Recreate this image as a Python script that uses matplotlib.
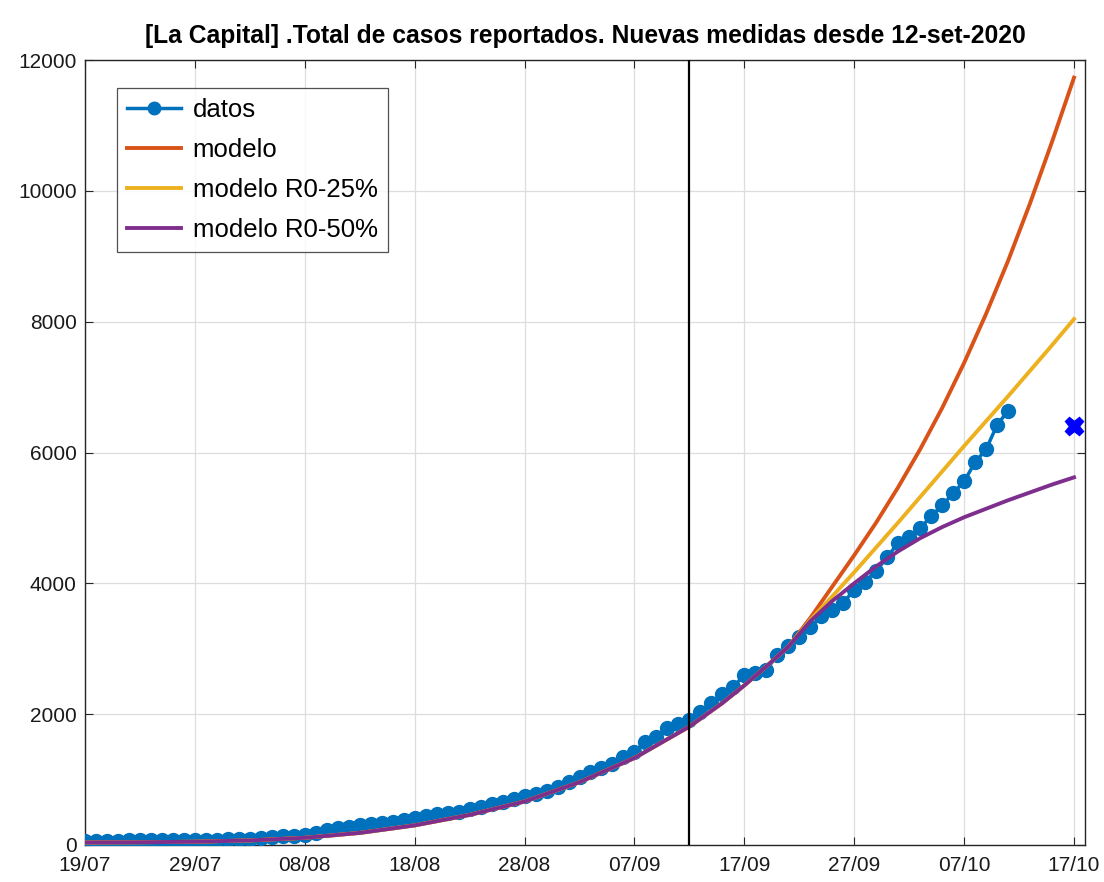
import matplotlib
matplotlib.use("Agg")
import matplotlib.pyplot as plt
import numpy as np

# ---- data (day index 0 = 19/07/2020) ----
tick_days = [0, 10, 20, 30, 40, 50, 60, 70, 80, 90]
tick_labels = ["19/07", "29/07", "08/08", "18/08", "28/08", "07/09", "17/09", "27/09", "07/10", "17/10"]

datos = [65, 66, 67, 68, 69, 70, 71, 72, 74, 76, 78, 80, 83, 86, 90, 95, 102,
         115, 130, 142,
         158, 188, 229, 255, 280, 306, 321, 341, 357, 382, 408, 443, 474, 484, 509,
         545, 586, 627, 662, 698, 745, 785,
         830, 881, 968, 1045, 1121, 1172, 1238, 1350, 1426, 1579, 1656, 1783, 1850,
         1911, 2030, 2166, 2308, 2420, 2599, 2634, 2675, 2904, 3042, 3184, 3327, 3500, 3600,
         3705, 3898, 4025, 4193, 4398, 4621, 4712, 4840, 5029, 5190, 5376, 5560, 5850,
         6049, 6420, 6639]

model_days_common = [0, 5, 10, 15, 20, 25, 30, 35, 40, 45, 50, 55, 58, 60, 62, 64]
model_common = [38, 42, 50, 70, 110, 185, 300, 460, 665, 960, 1330, 1810, 2170, 2440, 2730, 3030]

model_days_tail = [66, 68, 70, 72, 74, 76, 78, 80, 82, 84, 86, 88, 90]
modelo_tail = [3470, 3950, 4430, 4930, 5470, 6050, 6680, 7370, 8120, 8930, 9810, 10750, 11730]
modelo25_tail = [3440, 3800, 4170, 4550, 4930, 5320, 5710, 6100, 6480, 6860, 7250, 7640, 8040]
modelo50_tail = [3420, 3730, 4000, 4260, 4490, 4690, 4860, 5010, 5140, 5270, 5390, 5510, 5620]

medidas_day = 55
extra_day = 90
extra_value = 6400

# ---- figure ----
plt.rcParams['font.family'] = ['Liberation Sans', 'DejaVu Sans']
fig = plt.figure(figsize=(11.04, 8.82), dpi=100)
ax = fig.add_axes([85/1104, 37/882, 1000/1104, 785/882])

days_data = np.arange(len(datos))
ax.plot(days_data, datos, '-o', color='#0072BD', lw=2.5, ms=10, mec='#0072BD', label='datos', zorder=3)

md = model_days_common + model_days_tail
ax.plot(md, model_common + modelo_tail, color='#D95319', lw=2.8, label='modelo', zorder=4)
ax.plot(md, model_common + modelo25_tail, color='#EDB120', lw=2.8, label='modelo R0-25%', zorder=4)
ax.plot(md, model_common + modelo50_tail, color='#7E2F8E', lw=2.8, label='modelo R0-50%', zorder=4)

ax.axvline(medidas_day, color='black', lw=1.6, zorder=5)
ax.plot([extra_day], [extra_value], marker='X', color='#0000FF', ms=13, ls='none', zorder=6)

ax.set_xlim(0, 91)
ax.set_ylim(0, 12000)
ax.set_xticks(tick_days)
ax.set_xticklabels(tick_labels)
ax.set_yticks(np.arange(0, 12001, 2000))
ax.grid(True, color='#dddddd', lw=0.9)
ax.set_axisbelow(True)
ax.tick_params(direction='in', top=True, right=True, labelsize=15, length=6,
               color='#262626', labelcolor='#1a1a1a')
ax.tick_params(axis='x', pad=8)
ax.tick_params(axis='y', pad=6)
for s in ax.spines.values():
    s.set_color('#262626')
    s.set_linewidth(1.0)

ax.set_title('[La Capital] .Total de casos reportados. Nuevas medidas desde 12-set-2020',
             fontsize=17.7, fontweight='bold', pad=12)

leg = ax.legend(loc='upper left', bbox_to_anchor=(32/1000, 1 - 28/785), fontsize=18.5,
                frameon=True, fancybox=False, edgecolor='#262626', handlelength=2.1,
                borderpad=0.4, labelspacing=0.62, handletextpad=0.45, borderaxespad=0)
leg.get_frame().set_linewidth(0.9)
for h in leg.legend_handles:
    try:
        h.set_markersize(9)
    except Exception:
        pass

fig.savefig('out.png', dpi=100)
